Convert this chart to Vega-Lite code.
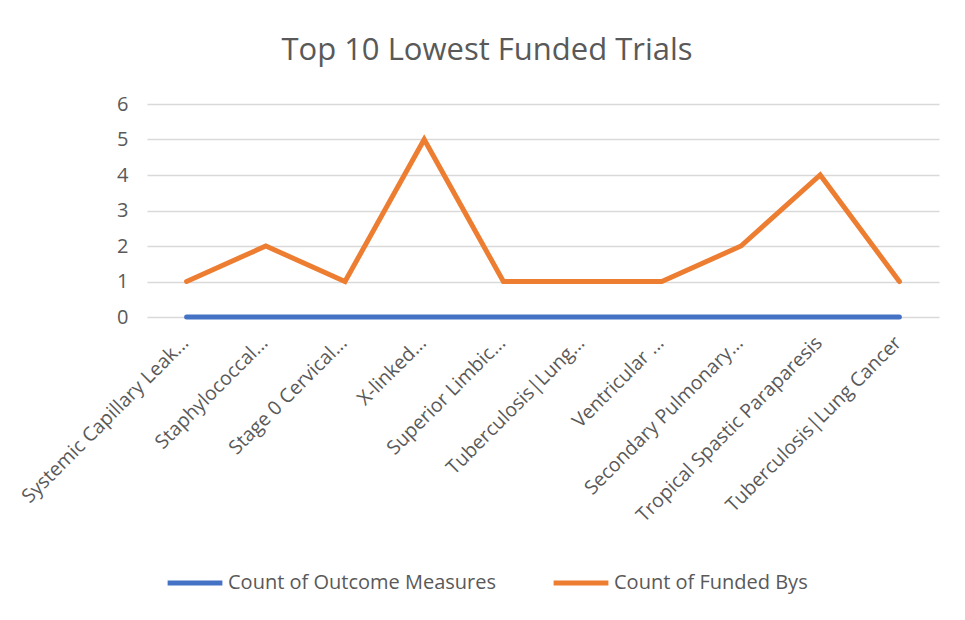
{
  "$schema": "https://vega.github.io/schema/vega-lite/v6.json",
  "width": 792,
  "height": 213,
  "autosize": {"type": "none"},
  "padding": {"left": 147, "top": 104, "right": 26, "bottom": 303},
  "background": "white",
  "title": {
    "text": "Top 10 Lowest Funded Trials",
    "font": "Open Sans",
    "fontSize": 31,
    "fontWeight": "normal",
    "color": "#595959",
    "anchor": "middle",
    "dx": -56,
    "offset": 27
  },
  "data": {
    "values": [
      {"trial": "Systemic Capillary Leak...", "series": "Count of Outcome Measures", "value": 0},
      {"trial": "Staphylococcal...", "series": "Count of Outcome Measures", "value": 0},
      {"trial": "Stage 0 Cervical...", "series": "Count of Outcome Measures", "value": 0},
      {"trial": "X-linked...", "series": "Count of Outcome Measures", "value": 0},
      {"trial": "Superior Limbic...", "series": "Count of Outcome Measures", "value": 0},
      {"trial": "Tuberculosis|Lung...", "series": "Count of Outcome Measures", "value": 0},
      {"trial": "Ventricular ...", "series": "Count of Outcome Measures", "value": 0},
      {"trial": "Secondary Pulmonary...", "series": "Count of Outcome Measures", "value": 0},
      {"trial": "Tropical Spastic Paraparesis", "series": "Count of Outcome Measures", "value": 0},
      {"trial": "Tuberculosis|Lung Cancer", "series": "Count of Outcome Measures", "value": 0},
      {"trial": "Systemic Capillary Leak...", "series": "Count of Funded Bys", "value": 1},
      {"trial": "Staphylococcal...", "series": "Count of Funded Bys", "value": 2},
      {"trial": "Stage 0 Cervical...", "series": "Count of Funded Bys", "value": 1},
      {"trial": "X-linked...", "series": "Count of Funded Bys", "value": 5},
      {"trial": "Superior Limbic...", "series": "Count of Funded Bys", "value": 1},
      {"trial": "Tuberculosis|Lung...", "series": "Count of Funded Bys", "value": 1},
      {"trial": "Ventricular ...", "series": "Count of Funded Bys", "value": 1},
      {"trial": "Secondary Pulmonary...", "series": "Count of Funded Bys", "value": 2},
      {"trial": "Tropical Spastic Paraparesis", "series": "Count of Funded Bys", "value": 4},
      {"trial": "Tuberculosis|Lung Cancer", "series": "Count of Funded Bys", "value": 1}
    ]
  },
  "mark": {"type": "line", "strokeWidth": 5, "strokeCap": "round", "strokeJoin": "miter"},
  "encoding": {
    "x": {
      "field": "trial",
      "type": "nominal",
      "sort": null,
      "scale": {"paddingInner": 0, "paddingOuter": 0.5},
      "axis": {
        "title": null,
        "domain": false,
        "ticks": false,
        "grid": false,
        "labelAngle": -45,
        "labelAlign": "right",
        "labelBaseline": "top",
        "labelPadding": 16,
        "labelOffset": -8,
        "labelFont": "Open Sans",
        "labelFontSize": 19.5,
        "labelColor": "#595959",
        "labelLimit": 400
      }
    },
    "y": {
      "field": "value",
      "type": "quantitative",
      "scale": {"domain": [0, 6]},
      "axis": {
        "title": null,
        "values": [0, 1, 2, 3, 4, 5, 6],
        "domain": false,
        "ticks": false,
        "gridColor": "#d9d9d9",
        "gridWidth": 1.5,
        "labelFont": "Open Sans",
        "labelFontSize": 20,
        "labelColor": "#595959",
        "labelPadding": 19
      }
    },
    "color": {
      "field": "series",
      "type": "nominal",
      "sort": ["Count of Outcome Measures", "Count of Funded Bys"],
      "scale": {
        "domain": ["Count of Outcome Measures", "Count of Funded Bys"],
        "range": ["#4472C4", "#ED7D31"]
      },
      "legend": {
        "title": null,
        "orient": "none",
        "direction": "horizontal",
        "legendX": 18,
        "legendY": 449,
        "symbolType": "stroke",
        "symbolStrokeWidth": 5,
        "symbolSize": 3000,
        "labelFont": "Open Sans",
        "labelFontSize": 20,
        "labelColor": "#595959",
        "labelOffset": 3,
        "columnPadding": 46,
        "labelLimit": 400
      }
    }
  },
  "config": {"view": {"stroke": null}}
}
